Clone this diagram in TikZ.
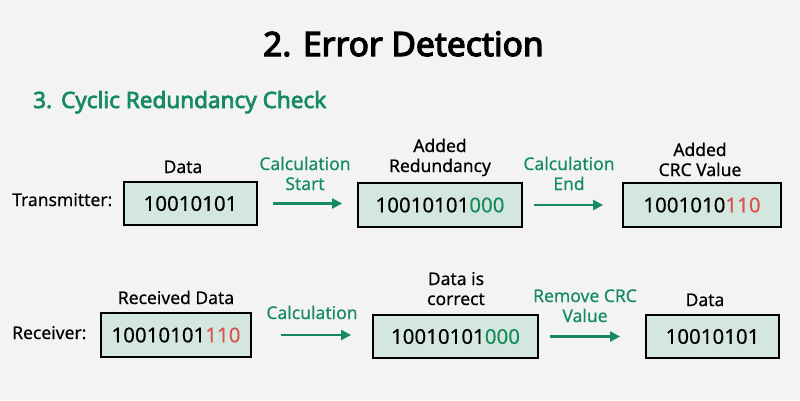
\documentclass[tikz,border=0pt]{standalone}
\usepackage{fontspec}
\setmainfont{Noto Sans}[FakeBold=0.4]
\newfontfamily\headfont{Noto Sans}[FakeBold=3.6]
\newfontfamily\subfont{Noto Sans}[FakeBold=3]
\usetikzlibrary{arrows.meta}
\definecolor{bgc}{RGB}{243,243,243}
\definecolor{gfg}{RGB}{22,139,96}
\definecolor{boxfill}{RGB}{212,231,222}
\definecolor{redd}{RGB}{217,83,79}
\tikzset{
  databox/.style={draw=black, line width=1.8pt, fill=boxfill, inner sep=0pt,
    font=\fontsize{20.5}{24}\selectfont},
  lbl/.style={anchor=base, align=center, font=\fontsize{17.5}{20}\selectfont},
  glbl/.style={lbl, text=gfg},
  flow/.style={draw=gfg, line width=2.2pt, -{Triangle[length=10pt,width=10pt]}},
}
\begin{document}
\begin{tikzpicture}[x=1pt,y=-1pt]
\fill[bgc] (0,0) rectangle (800,400);
\useasboundingbox (0,0) rectangle (800,400);
% titles
\node[anchor=base west, inner sep=0pt, font=\fontsize{33.5}{38}\selectfont\headfont] (title) at (263,56) {2.\hspace{0.35em}Error Detection};
\node[anchor=base west, text=gfg, inner sep=0pt, font=\fontsize{22.5}{26}\selectfont\subfont] (sub) at (33,108) {3.\hspace{0.4em}Cyclic Redundancy Check};
% transmitter row
\node[lbl, anchor=base west, inner sep=0pt] (tx) at (12,206) {Transmitter:};
\node[databox, minimum width=133pt, minimum height=43pt] (b1) at (190.5,203.5) {10010101};
\node[databox, minimum width=164pt, minimum height=44pt] (b2) at (440,205) {10010101\textcolor{gfg}{000}};
\node[databox, minimum width=158pt, minimum height=44pt] (b3) at (702,205) {1001010\textcolor{redd}{110}};
\node[lbl] (l1) at (183,173) {Data};
\node[lbl] (l2) at (440,172) {Added\\Redundancy};
\node[lbl] (l3) at (700,176) {Added\\CRC Value};
\node[glbl] (g1) at (305,190) {Calculation\\Start};
\node[glbl] (g2) at (569,190) {Calculation\\End};
\draw[flow, shorten <=15pt, shorten >=15pt] (b1.east) -- (b1.east -| b2.west);
\draw[flow, shorten <=11pt, shorten >=19pt] (b2.east) -- (b2.east -| b3.west);
% receiver row
\node[lbl, anchor=base west, inner sep=0pt] (rx) at (12,339) {Receiver:};
\node[databox, minimum width=150pt, minimum height=44pt] (b4) at (176,335) {10010101\textcolor{redd}{110}};
\node[databox, minimum width=165pt, minimum height=43pt] (b5) at (455.5,336.5) {10010101\textcolor{gfg}{000}};
\node[databox, minimum width=133pt, minimum height=43pt] (b6) at (712.5,336.5) {10010101};
\node[lbl] (l4) at (176,304) {Received Data};
\node[lbl] (l5) at (456,305) {Data is\\correct};
\node[lbl] (l6) at (705,306) {Data};
\node[glbl] (g3) at (312,319) {Calculation};
\node[glbl] (g4) at (585,322) {Remove CRC\\Value};
\draw[flow, shorten <=29pt, shorten >=21pt] (b4.east) -- (b4.east -| b5.west);
\draw[flow, shorten <=11pt, shorten >=25pt] (b5.east) -- (b5.east -| b6.west);
\end{tikzpicture}
\end{document}
